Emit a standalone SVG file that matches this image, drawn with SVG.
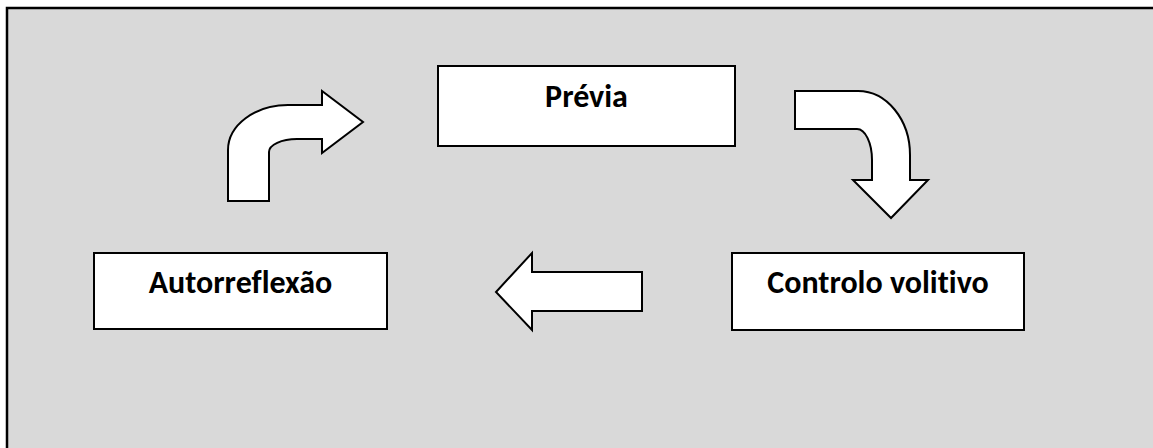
<svg xmlns="http://www.w3.org/2000/svg" width="1153" height="448" viewBox="0 0 1153 448">
  <style>
    .frame { fill: #d9d9d9; stroke: #000; stroke-width: 2.5; }
    .box { fill: #fff; stroke: #000; stroke-width: 2; }
    .label { font-family: Carlito, Lato, "Liberation Sans", sans-serif; font-weight: bold; font-size: 32px; fill: #000; text-anchor: middle; font-variant-ligatures: none; }
    .arrow { fill: #fff; stroke: #000; stroke-width: 2; stroke-linejoin: miter; }
  </style>

  <!-- background panel -->
  <rect class="frame" x="7" y="8" width="1160" height="460"/>

  <g id="previa">
    <rect class="box" x="438" y="66" width="297" height="80"/>
    <text class="label" x="586.5" y="107">Prévia</text>
  </g>

  <g id="controlo-volitivo">
    <rect class="box" x="732" y="253" width="292" height="77"/>
    <text class="label" x="878" y="293">Controlo volitivo</text>
  </g>

  <g id="autorreflexao">
    <rect class="box" x="94" y="253" width="293" height="76"/>
    <text class="label" x="240.5" y="293">Autorreflexão</text>
  </g>

  <g id="connectors">
    <!-- Autorreflexão → Prévia (bent up, then right) -->
    <path class="arrow" d="M228,201 L228,150 A60,45 0 0 1 288,105 L322,105 L322,91 L363,122 L322,153 L322,139 L297,139 A28,13 0 0 0 269,152 L269,201 Z"/>
    <!-- Prévia → Controlo volitivo (right, then bent down) -->
    <path class="arrow" d="M795,91 L858,91 A52,64 0 0 1 910,155 L910,180 L928,180 L891,218 L853,180 L872,180 L872,160 A15,31 0 0 0 857,129 L795,129 Z"/>
    <!-- Controlo volitivo → Autorreflexão (left) -->
    <path class="arrow" d="M642,272 L532,272 L532,253 L496,292 L532,330 L532,311 L642,311 Z"/>
  </g>
</svg>
